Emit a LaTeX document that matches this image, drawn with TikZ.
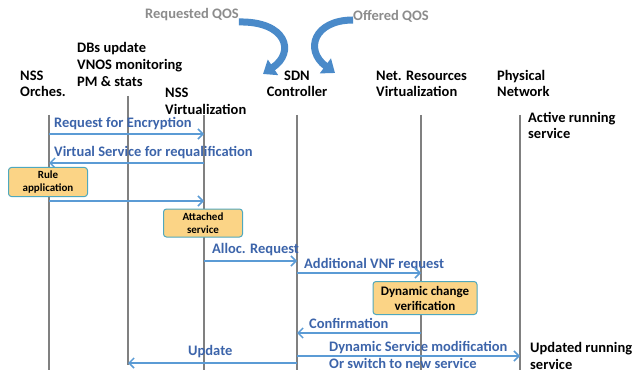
\documentclass[tikz,border=0pt]{standalone}
\usepackage{fontspec}
\setmainfont{Carlito}
\usetikzlibrary{arrows.meta}
\definecolor{msgblue}{HTML}{5B9BD5}
\definecolor{txtblue}{HTML}{3C64AA}
\definecolor{lifegray}{HTML}{808080}
\definecolor{boxfill}{HTML}{FBD486}
\definecolor{boxline}{HTML}{4FA8BE}
\definecolor{qosblue}{HTML}{4A8AC9}
\definecolor{qosgray}{HTML}{8C8C8C}
\tikzset{
	head/.style={font=\bfseries\fontsize{14.5}{17}\selectfont, align=left, anchor=base west, inner sep=0pt},
	lbl/.style={font=\bfseries\fontsize{14.5}{17}\selectfont, text=txtblue, align=left, anchor=base west, inner sep=0pt},
	life/.style={draw=lifegray, line width=1.6pt},
	msg/.style={draw=msgblue, line width=1.5pt, ->},
	act/.style={draw=boxline, line width=1pt, fill=boxfill, rounded corners=3pt, align=center, font=\bfseries\fontsize{11}{13}\selectfont},
	qostext/.style={font=\bfseries\fontsize{14.5}{17}\selectfont, text=qosgray, inner sep=0pt},
	qos/.style={draw=qosblue, line width=7pt, -{Triangle[width=18pt,length=12pt]}}
}
\begin{document}
\begin{tikzpicture}[x=1pt, y=-1pt, >={Straight Barb[length=5pt,width=10pt]}]
	\useasboundingbox (0,0) rectangle (634,377);
	\foreach \n/\x/\t/\b in {orc/49/115/370, dbs/128/96/365, nsv/204/115/370, sdn/297/115/370, nrv/421/115/370, phy/520/115/370}
	{
		\coordinate (\n) at (\x,\t);
		\coordinate (\n-b) at (\x,\b);
		\draw[life] (\n) -- (\n-b);
	};
	\node[head] (orchead) at (20,97) {NSS\\Orches.};
	\node[head] (dbshead) at (77,87) {DBs update\\VNOS monitoring\\PM \& stats};
	\node[head] (nsvhead) at (165,114) {NSS\\Virtualization};
	\node[head, align=center, anchor=base] (sdnhead) at (297,97) {SDN\\Controller};
	\node[head] (nrvhead) at (376,97) {Net. Resources\\Virtualization};
	\node[head] (phyhead) at (497,97) {Physical\\Network};
	\node[head] (active) at (528,139) {Active running\\service};
	\node[head] (updated) at (530,369) {Updated running\\ service};
	\node[qostext] (reqqos) at (192,15) {Requested QOS};
	\node[qostext] (offqos) at (391,16) {Offered QOS};
	\coordinate (reqtip) at (263,74);
	\coordinate (offtip) at (335,73);
	\draw[qos] (reqqos.east |- 0,22) .. controls (286,21) and (296,52) .. (reqtip);
	\draw[qos] (offqos.west |- 0,20) .. controls (314,20) and (304,50) .. (offtip);
	\node[lbl] (encr) at (54,128) {Request for Encryption};
	\draw[msg] (orc |- 0,134) -- (nsv |- 0,134);
	\node[lbl] (requal) at (54,156) {Virtual Service for requalification};
	\draw[msg] (nsv |- 0,163) -- (orc |- 0,163);
	\node[act, minimum width=79pt, minimum height=29pt] (rule) at (48,182) {Rule\\application};
	\draw[msg] (orc |- 0,201) -- (nsv |- 0,201);
	\node[act, minimum width=79pt, minimum height=28pt] (attach) at (203,223) {Attached\\service};
	\node[lbl] (alloc) at (212,253) {Alloc. Request};
	\draw[msg] (nsv |- 0,261) -- (sdn |- 0,261);
	\node[lbl] (addvnf) at (304,268) {Additional VNF request};
	\draw[msg] (sdn |- 0,273) -- (nrv |- 0,273);
	\node[act, font=\bfseries\fontsize{13}{15}\selectfont, minimum width=104pt, minimum height=33pt] (dyncheck) at (425,298) {Dynamic change\\verification};
	\node[lbl] (confirm) at (309,328) {Confirmation};
	\draw[msg] (nrv |- 0,333) -- (sdn |- 0,333);
	\node[lbl] (update) at (188,355) {Update};
	\draw[msg] (sdn |- 0,363) -- (dbs |- 0,363);
	\node[lbl] (dynmod) at (329,368) {Dynamic Service modification\\Or switch to new service};
	\draw[msg] (sdn |- 0,356) -- (phy |- 0,356);
\end{tikzpicture}
\end{document}
